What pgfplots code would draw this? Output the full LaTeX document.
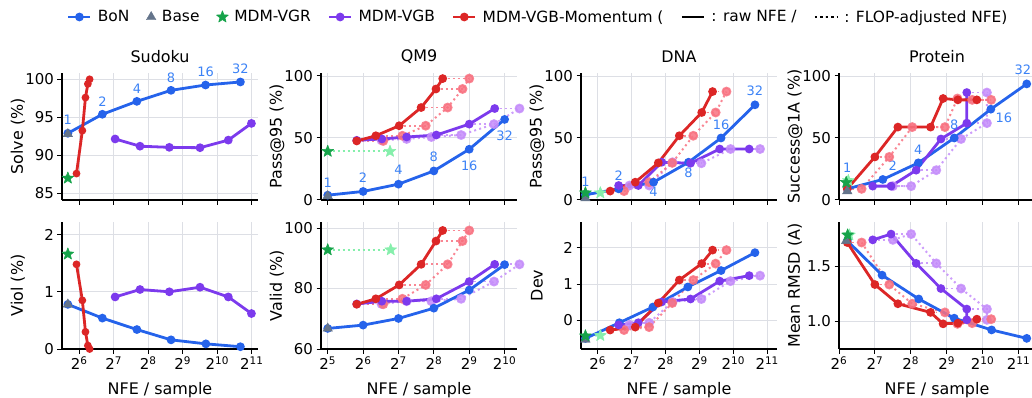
\documentclass[border=0pt]{standalone}
\usepackage{fontspec}
\setmainfont{DejaVu Sans}
\usepackage{pgfplots}
\usepackage{pgfplotstable}
\pgfplotsset{compat=1.18}
\definecolor{bon}{RGB}{37,99,235}
\definecolor{bonlab}{RGB}{59,130,246}
\definecolor{mom}{RGB}{220,38,38}
\definecolor{momlt}{RGB}{248,113,128}
\definecolor{vgb}{RGB}{124,58,237}
\definecolor{vgblt}{RGB}{196,140,250}
\definecolor{vgr}{RGB}{22,163,74}
\definecolor{vgrlt}{RGB}{134,239,172}
\definecolor{basec}{RGB}{100,116,139}
\definecolor{gridc}{RGB}{221,223,229}

\pgfdeclareplotmark{fstar}{%
  \pgfpathmoveto{\pgfpointpolar{90}{\pgfplotmarksize}}%
  \pgfpathlineto{\pgfpointpolar{126}{0.42\pgfplotmarksize}}%
  \pgfpathlineto{\pgfpointpolar{162}{\pgfplotmarksize}}%
  \pgfpathlineto{\pgfpointpolar{198}{0.42\pgfplotmarksize}}%
  \pgfpathlineto{\pgfpointpolar{234}{\pgfplotmarksize}}%
  \pgfpathlineto{\pgfpointpolar{270}{0.42\pgfplotmarksize}}%
  \pgfpathlineto{\pgfpointpolar{306}{\pgfplotmarksize}}%
  \pgfpathlineto{\pgfpointpolar{342}{0.42\pgfplotmarksize}}%
  \pgfpathlineto{\pgfpointpolar{18}{\pgfplotmarksize}}%
  \pgfpathlineto{\pgfpointpolar{54}{0.42\pgfplotmarksize}}%
  \pgfpathclose
  \pgfusepathqfillstroke
}

\tikzset{bl/.style={text=bonlab, font=\fontsize{13}{15}\selectfont, inner sep=0pt}}
\pgfplotsset{
  panel/.style={
    scale only axis, width=196bp, height=127bp,
    axis x line*=bottom, axis y line*=left,
    axis line style={black, line width=1.1bp},
    tick align=outside, major tick length=4.5bp,
    every tick/.style={black, line width=1bp},
    grid=major, major grid style={draw=gridc, line width=0.9bp},
    clip=false,
    tick label style={font=\fontsize{15}{17}\selectfont},
    title style={font=\fontsize{16}{18}\selectfont, at={(axis description cs:0.5,1)}, anchor=center, yshift=10bp},
    every axis y label/.style={at={(axis description cs:-0.225,0.5)}, rotate=90, anchor=center, font=\fontsize{16}{18}\selectfont},
    every axis x label/.style={at={(axis description cs:0.5,-0.323)}, anchor=center, font=\fontsize{16}{18}\selectfont},
  },
  dots/.style={dash pattern=on 2bp off 3.2bp},
  raw/.style={line width=2.8bp, mark=*, mark size=2.9bp, mark options={solid}},
  adj/.style={line width=2bp, dots, mark=*, mark size=3.9bp, mark options={solid, draw=none}, opacity=0.85},
  conn/.style={draw=none, mark=none, forget plot,
    /pgfplots/error bars/x dir=plus, /pgfplots/error bars/x explicit,
    /pgfplots/error bars/error mark=none,
    /pgfplots/error bars/error bar style={line width=1.8bp, dash pattern=on 1.8bp off 3.2bp, opacity=0.85, draw=#1}},
  basem/.style={only marks, mark=triangle*, mark size=5.5bp, color=basec},
  starm/.style={only marks, mark=fstar, mark size=6.2bp, color=vgr, mark options={fill=vgr, line width=0.6bp, line join=round}},
  starlt/.style={only marks, mark=fstar, mark size=6.2bp, color=vgrlt, mark options={fill=vgrlt, line width=0.6bp, line join=round}},
  vgrconn/.style={vgrlt, line width=1.8bp, dash pattern=on 1.8bp off 3.2bp},
}

% ---------- QM9 ----------
\pgfplotstableread{
x y xa
5.82 47.5 6.57
6.36 51.7 7.11
7.02 59.8 7.77
7.64 74.5 8.39
8.06 89.5 8.81
8.25 97.9 9.00
}\qmtRed
\pgfplotstableread{
x y xa
5.82 48.0 6.52
6.53 49.1 7.23
7.23 50.7 7.93
8.07 52.3 8.77
9.00 61.1 9.70
9.72 73.7 10.42
}\qmtVgb
\pgfplotstableread{
x y xa
5.82 74.8 6.57
6.36 76.6 7.11
7.02 81.2 7.77
7.64 88.0 8.39
8.06 95.7 8.81
8.25 99.2 9.00
}\qmbRed
\pgfplotstableread{
x y xa
5.82 74.9 6.52
6.53 75.8 7.23
7.23 75.8 7.93
8.07 76.6 8.77
9.00 82.3 9.70
9.72 88.0 10.42
}\qmbVgb
% ---------- DNA ----------
\pgfplotstableread{
x y xa
6.37 7.0 6.78
7.11 14.2 7.52
7.79 29.8 8.20
8.41 51.7 8.82
9.07 70.5 9.48
9.39 87.4 9.80
}\dntRed
\pgfplotstableread{
x y xa
6.62 11.5 6.94
7.20 11.5 7.52
7.89 30.3 8.21
8.74 29.5 9.06
9.60 41.0 9.92
10.47 41.0 10.79
}\dntVgb
\pgfplotstableread{
x y xa
6.37 -0.26 6.78
7.11 -0.18 7.52
7.79 0.48 8.20
8.41 1.11 8.82
9.07 1.56 9.48
9.39 1.93 9.80
}\dnbRed
\pgfplotstableread{
x y xa
6.62 -0.12 6.94
7.20 -0.06 7.52
7.89 0.51 8.21
8.74 0.59 9.06
9.60 1.08 9.92
10.47 1.23 10.79
}\dnbVgb
% ---------- Protein ----------
\pgfplotstableread{
x y xa
6.23 8.8 6.63
7.00 34.6 7.40
7.64 58.7 8.04
8.55 58.7 8.95
8.90 81.8 9.30
9.31 80.7 9.71
9.84 80.7 10.24
}\prtRed
\pgfplotstableread{
x y xa
6.94 11.0 7.50
7.45 11.0 8.01
8.15 23.9 8.71
8.84 49.1 9.40
9.56 61.9 10.12
9.56 86.6 10.12
}\prtVgb
\pgfplotstableread{
x y xa
6.23 1.712 6.63
7.00 1.333 7.40
7.64 1.160 8.04
8.55 1.082 8.95
8.90 0.979 9.30
9.31 0.985 9.71
9.84 1.021 10.24
}\prbRed
\pgfplotstableread{
x y xa
6.94 1.736 7.50
7.45 1.788 8.01
8.15 1.524 8.71
8.84 1.297 9.40
9.56 1.112 10.12
9.56 1.015 10.12
}\prbVgb

\begin{document}
\begin{tikzpicture}

% ================= Sudoku top =================
\begin{axis}[panel, at={(62bp,-73bp)}, anchor=north west,
  xmin=5.5, xmax=11.18, ymin=84.12, ymax=100.83,
  xtick={6,...,11}, xticklabels={},
  ytick={85,90,95,100}, yticklabels={85,90,95,100},
  ylabel={Solve (\%)}, title={Sudoku},
  legend columns=7,
  legend style={at={(axis description cs:2.43,1.441)}, anchor=center, draw=none, fill=none,
    font=\fontsize{15.5}{17}\selectfont,
    /tikz/every odd column/.append style={column sep=4bp},
    /tikz/every even column/.append style={column sep=15bp}},
  legend image code/.code={\draw[mark repeat=2,mark phase=2,#1] plot coordinates {(0bp,0bp) (11bp,0bp) (22bp,0bp)};},
]
\addlegendimage{bon, line width=2.8bp, mark=*, mark size=2.9bp}\addlegendentry{BoN}
\addlegendimage{basem}\addlegendentry{Base}
\addlegendimage{starm}\addlegendentry{MDM-VGR}
\addlegendimage{vgb, line width=2.8bp, mark=*, mark size=2.9bp}\addlegendentry{MDM-VGB}
\addlegendimage{mom, line width=2.8bp, mark=*, mark size=2.9bp}\addlegendentry{MDM-VGB-Momentum (}
\addlegendimage{black, line width=2.8bp}\addlegendentry{: raw NFE /}
\addlegendimage{black, line width=2.6bp, dash pattern=on 2.4bp off 3bp}\addlegendentry{: FLOP-adjusted NFE)}
\addplot[bon, raw, forget plot] coordinates {(5.67,92.9)(6.67,95.4)(7.67,97.1)(8.66,98.55)(9.66,99.25)(10.67,99.65)};
\addplot[vgb, raw, forget plot] coordinates {(7.04,92.15)(7.76,91.2)(8.61,91.05)(9.50,91.0)(10.32,92.0)(10.99,94.2)};
\addplot[mom, raw, mark size=2.4bp, forget plot] coordinates {(5.92,87.6)(6.09,93.25)(6.18,97.6)(6.25,99.4)(6.30,100.0)};
\addplot[basem, forget plot] coordinates {(5.67,92.8)};
\addplot[starm, forget plot] coordinates {(5.67,87.0)};
\node[bl, yshift=13bp] at (axis cs:5.67,92.9) {1};
\node[bl, yshift=13bp] at (axis cs:6.67,95.4) {2};
\node[bl, yshift=13bp] at (axis cs:7.67,97.1) {4};
\node[bl, yshift=13bp] at (axis cs:8.66,98.55) {8};
\node[bl, yshift=13bp] at (axis cs:9.66,99.25) {16};
\node[bl, yshift=13bp] at (axis cs:10.67,99.65) {32};
\end{axis}

% ================= Sudoku bottom =================
\begin{axis}[panel, at={(62bp,-222bp)}, anchor=north west,
  xmin=5.5, xmax=11.18, ymin=0, ymax=2.22,
  xtick={6,...,11}, xticklabels={2\textsuperscript{6},2\textsuperscript{7},2\textsuperscript{8},2\textsuperscript{9},2\textsuperscript{10},2\textsuperscript{11}},
  ytick={0,1,2}, yticklabels={0,1,2},
  ylabel={Viol (\%)}, xlabel={NFE / sample},
]
\addplot[bon, raw] coordinates {(5.67,0.78)(6.67,0.54)(7.67,0.34)(8.66,0.16)(9.67,0.09)(10.67,0.04)};
\addplot[vgb, raw] coordinates {(7.04,0.91)(7.76,1.04)(8.61,1.0)(9.50,1.08)(10.32,0.91)(10.99,0.62)};
\addplot[mom, raw, mark size=2.4bp] coordinates {(5.92,1.48)(6.09,0.85)(6.18,0.30)(6.25,0.06)(6.30,0.0)};
\addplot[basem] coordinates {(5.67,0.78)};
\addplot[starm] coordinates {(5.67,1.66)};
\end{axis}

% ================= QM9 top =================
\begin{axis}[panel, at={(321bp,-73bp)}, anchor=north west,
  xmin=4.81, xmax=10.35, ymin=-0.2, ymax=102.4,
  xtick={5,...,10}, xticklabels={},
  ytick={0,50,100}, yticklabels={0,50,100},
  ylabel={Pass@95 (\%)}, title={QM9},
]
\addplot[conn=vgblt] table[x=x, y=y, x error expr=\thisrow{xa}-\thisrow{x}] {\qmtVgb};
\addplot[conn=momlt] table[x=x, y=y, x error expr=\thisrow{xa}-\thisrow{x}] {\qmtRed};
\addplot[vgblt, adj] table[x=xa, y=y] {\qmtVgb};
\addplot[momlt, adj] table[x=xa, y=y] {\qmtRed};
\addplot[vgrconn] coordinates {(5,39.1)(6.76,39.1)};
\addplot[starlt] coordinates {(6.76,39.1)};
\addplot[bon, raw] coordinates {(5,3.7)(6,6.7)(7,12.6)(8,23.3)(9,40.8)(10,64.9)};
\addplot[vgb, raw] table[x=x, y=y] {\qmtVgb};
\addplot[mom, raw] table[x=x, y=y] {\qmtRed};
\addplot[basem] coordinates {(5,3.0)};
\addplot[starm] coordinates {(5,39.1)};
\node[bl, yshift=12bp] at (axis cs:5,3.7) {1};
\node[bl, yshift=14bp] at (axis cs:6,6.7) {2};
\node[bl, yshift=14bp] at (axis cs:7,12.6) {4};
\node[bl, yshift=14bp] at (axis cs:8,23.3) {8};
\node[bl, yshift=-17bp] at (axis cs:9,40.8) {16};
\node[bl, yshift=-16bp] at (axis cs:10,64.9) {32};
\end{axis}

% ================= QM9 bottom =================
\begin{axis}[panel, at={(321bp,-222bp)}, anchor=north west,
  xmin=4.81, xmax=10.35, ymin=60, ymax=102,
  xtick={5,...,10}, xticklabels={2\textsuperscript{5},2\textsuperscript{6},2\textsuperscript{7},2\textsuperscript{8},2\textsuperscript{9},2\textsuperscript{10}},
  ytick={60,80,100}, yticklabels={60,80,100},
  ylabel={Valid (\%)}, xlabel={NFE / sample},
]
\addplot[conn=vgblt] table[x=x, y=y, x error expr=\thisrow{xa}-\thisrow{x}] {\qmbVgb};
\addplot[conn=momlt] table[x=x, y=y, x error expr=\thisrow{xa}-\thisrow{x}] {\qmbRed};
\addplot[vgblt, adj] table[x=xa, y=y] {\qmbVgb};
\addplot[momlt, adj] table[x=xa, y=y] {\qmbRed};
\addplot[vgrconn] coordinates {(5,92.8)(6.78,92.8)};
\addplot[starlt] coordinates {(6.78,92.8)};
\addplot[bon, raw] coordinates {(5,66.8)(6,67.9)(7,70.1)(8,73.5)(9,79.5)(10,87.9)};
\addplot[vgb, raw] table[x=x, y=y] {\qmbVgb};
\addplot[mom, raw] table[x=x, y=y] {\qmbRed};
\addplot[basem] coordinates {(5,66.8)};
\addplot[starm] coordinates {(5,92.8)};
\end{axis}

% ================= DNA top =================
\begin{axis}[panel, at={(581bp,-73bp)}, anchor=north west,
  xmin=5.51, xmax=11.29, ymin=-0.2, ymax=102.4,
  xtick={6,...,11}, xticklabels={},
  ytick={0,50,100}, yticklabels={0,50,100},
  ylabel={Pass@95 (\%)}, title={DNA},
]
\addplot[conn=vgblt] table[x=x, y=y, x error expr=\thisrow{xa}-\thisrow{x}] {\dntVgb};
\addplot[conn=momlt] table[x=x, y=y, x error expr=\thisrow{xa}-\thisrow{x}] {\dntRed};
\addplot[vgblt, adj] table[x=xa, y=y] {\dntVgb};
\addplot[momlt, adj] table[x=xa, y=y] {\dntRed};
\addplot[vgrconn] coordinates {(5.64,5.6)(6.08,5.6)};
\addplot[starlt] coordinates {(6.08,5.6)};
\addplot[bon, raw] coordinates {(5.64,4.0)(6.62,8.8)(7.65,14.2)(8.68,30.3)(9.64,49.9)(10.64,76.7)};
\addplot[vgb, raw] table[x=x, y=y] {\dntVgb};
\addplot[mom, raw] table[x=x, y=y] {\dntRed};
\addplot[basem] coordinates {(5.64,1.3)};
\addplot[starm] coordinates {(5.64,5.6)};
\node[bl, yshift=13bp] at (axis cs:5.64,4.0) {1};
\node[bl, yshift=13bp] at (axis cs:6.62,8.8) {2};
\node[bl, yshift=-10bp] at (axis cs:7.65,14.2) {4};
\node[bl, yshift=-11bp] at (axis cs:8.68,30.3) {8};
\node[bl, yshift=13bp] at (axis cs:9.64,49.9) {16};
\node[bl, yshift=14bp] at (axis cs:10.64,76.7) {32};
\end{axis}

% ================= DNA bottom =================
\begin{axis}[panel, at={(581bp,-222bp)}, anchor=north west,
  xmin=5.51, xmax=11.29, ymin=-0.78, ymax=2.70,
  xtick={6,...,11}, xticklabels={2\textsuperscript{6},2\textsuperscript{7},2\textsuperscript{8},2\textsuperscript{9},2\textsuperscript{10},2\textsuperscript{11}},
  ytick={0,1,2}, yticklabels={0,1,2},
  ylabel={Dev}, xlabel={NFE / sample},
]
\addplot[conn=vgblt] table[x=x, y=y, x error expr=\thisrow{xa}-\thisrow{x}] {\dnbVgb};
\addplot[conn=momlt] table[x=x, y=y, x error expr=\thisrow{xa}-\thisrow{x}] {\dnbRed};
\addplot[vgblt, adj] table[x=xa, y=y] {\dnbVgb};
\addplot[momlt, adj] table[x=xa, y=y] {\dnbRed};
\addplot[vgrconn] coordinates {(5.64,-0.42)(6.08,-0.41)};
\addplot[starlt] coordinates {(6.08,-0.41)};
\addplot[bon, raw] coordinates {(5.64,-0.49)(6.64,-0.06)(7.63,0.37)(8.66,0.92)(9.64,1.37)(10.64,1.86)};
\addplot[vgb, raw] table[x=x, y=y] {\dnbVgb};
\addplot[mom, raw] table[x=x, y=y] {\dnbRed};
\addplot[basem] coordinates {(5.64,-0.52)};
\addplot[starm] coordinates {(5.64,-0.42)};
\end{axis}

% ================= Protein top =================
\begin{axis}[panel, at={(839bp,-73bp)}, anchor=north west,
  xmin=6, xmax=11.46, ymin=-0.2, ymax=102.4,
  xtick={6,...,11}, xticklabels={},
  ytick={0,50,100}, yticklabels={0,50,100},
  ylabel={Success@1A (\%)}, title={Protein},
]
\addplot[conn=vgblt] table[x=x, y=y, x error expr=\thisrow{xa}-\thisrow{x}] {\prtVgb};
\addplot[conn=momlt] table[x=x, y=y, x error expr=\thisrow{xa}-\thisrow{x}] {\prtRed};
\addplot[vgblt, adj] table[x=xa, y=y] {\prtVgb};
\addplot[momlt, adj] table[x=xa, y=y] {\prtRed};
\addplot[starlt] coordinates {(6.26,15.5)};
\addplot[bon, raw] coordinates {(6.23,8.8)(7.22,16.4)(8.21,29.8)(9.21,49.9)(10.23,73.2)(11.23,93.6)};
\addplot[vgb, raw] table[x=x, y=y] {\prtVgb};
\addplot[mom, raw] table[x=x, y=y] {\prtRed};
\addplot[basem] coordinates {(6.23,7.0)};
\addplot[starm] coordinates {(6.2,14.0)};
\node[bl, yshift=21bp] at (axis cs:6.23,8.8) {1};
\node[bl, xshift=10bp, yshift=14bp] at (axis cs:7.22,16.4) {2};
\node[bl, yshift=13bp] at (axis cs:8.21,29.8) {4};
\node[bl, yshift=13bp] at (axis cs:9.21,49.9) {8};
\node[bl, xshift=13bp, yshift=-9bp] at (axis cs:10.23,73.2) {16};
\node[bl, xshift=-4bp, yshift=14bp] at (axis cs:11.23,93.6) {32};
\end{axis}

% ================= Protein bottom =================
\begin{axis}[panel, at={(839bp,-222bp)}, anchor=north west,
  xmin=6, xmax=11.46, ymin=0.752, ymax=1.897,
  xtick={6,...,11}, xticklabels={2\textsuperscript{6},2\textsuperscript{7},2\textsuperscript{8},2\textsuperscript{9},2\textsuperscript{10},2\textsuperscript{11}},
  ytick={1.0,1.5}, yticklabels={1.0,1.5},
  ylabel={Mean RMSD (A)}, xlabel={NFE / sample},
]
\addplot[conn=vgblt] table[x=x, y=y, x error expr=\thisrow{xa}-\thisrow{x}] {\prbVgb};
\addplot[conn=momlt] table[x=x, y=y, x error expr=\thisrow{xa}-\thisrow{x}] {\prbRed};
\addplot[vgblt, adj] table[x=xa, y=y] {\prbVgb};
\addplot[momlt, adj] table[x=xa, y=y] {\prbRed};
\addplot[starlt] coordinates {(6.29,1.78)};
\addplot[bon, raw] coordinates {(6.23,1.727)(7.2,1.418)(8.22,1.203)(9.21,1.03)(10.25,0.924)(11.23,0.848)};
\addplot[vgb, raw] table[x=x, y=y] {\prbVgb};
\addplot[mom, raw] table[x=x, y=y] {\prbRed};
\addplot[basem] coordinates {(6.2,1.727)};
\addplot[starm] coordinates {(6.24,1.78)};
\end{axis}

\pgfresetboundingbox
\path[use as bounding box] (0bp,0bp) rectangle (1032bp,-398bp);
\end{tikzpicture}
\end{document}
